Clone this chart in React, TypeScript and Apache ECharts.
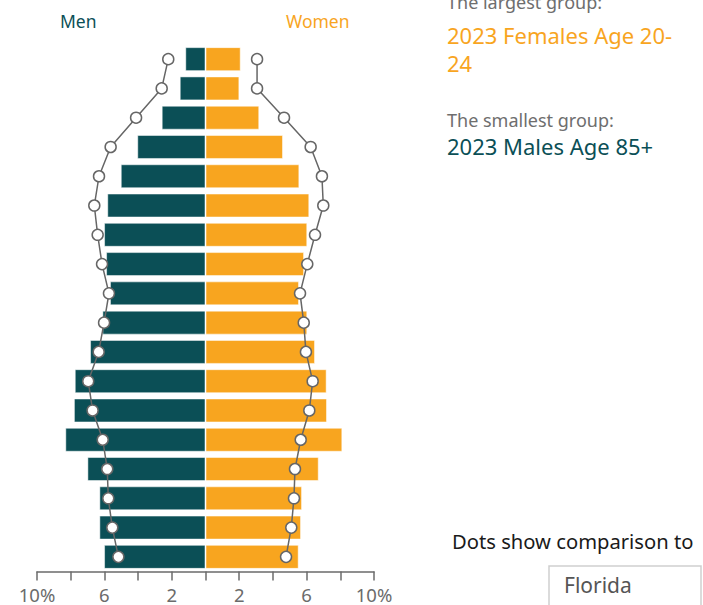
import React, { useEffect, useRef } from "react";
import * as echarts from "echarts";

const ageGroups = ["0-4", "5-9", "10-14", "15-19", "20-24", "25-29", "30-34", "35-39", "40-44", "45-49", "50-54", "55-59", "60-64", "65-69", "70-74", "75-79", "80-84", "85+"];
const menPct = [6.02, 6.3, 6.3, 7.01, 8.32, 7.81, 7.76, 6.85, 6.12, 5.67, 5.9, 6.02, 5.83, 5.03, 4.05, 2.6, 1.53, 1.2];
const womenPct = [5.53, 5.67, 5.73, 6.72, 8.12, 7.21, 7.19, 6.5, 6.04, 5.55, 5.85, 6.04, 6.16, 5.57, 4.6, 3.19, 2.01, 2.09];
const floridaMenPct = [5.17, 5.53, 5.77, 5.83, 6.1, 6.7, 6.96, 6.34, 6.02, 5.73, 6.14, 6.4, 6.6, 6.32, 5.63, 4.12, 2.6, 2.21];
const floridaWomenPct = [4.78, 5.09, 5.25, 5.31, 5.65, 6.16, 6.36, 5.96, 5.83, 5.61, 6.04, 6.5, 6.99, 6.91, 6.24, 4.66, 3.06, 3.06];
const shownTicks = [-10, -6, -2, 2, 6, 10];

const MEN = "#0b4f56";
const WOMEN = "#f8a51f";
const FONT = "'Noto Sans', 'Open Sans', sans-serif";

export default function App() {
  const ref = useRef<HTMLDivElement>(null);
  useEffect(() => {
    if (!ref.current) return;
    const chart = echarts.init(ref.current, null, { renderer: "svg" });
    const neg = (a: number[]) => a.map((v) => -v);
    chart.setOption({
      animation: false,
      textStyle: { fontFamily: FONT },
      grid: { left: 37, right: 329, top: 44.5, bottom: 33.5, containLabel: false },
      xAxis: {
        type: "value",
        min: -10,
        max: 10,
        interval: 2,
        splitLine: { show: false },
        axisLine: { show: true, lineStyle: { color: "#6b6b6b", width: 1.5 } },
        axisTick: { show: true, length: 9, lineStyle: { color: "#6b6b6b", width: 1.5 } },
        axisLabel: {
          margin: 13,
          fontSize: 18.5,
          color: "#6b6b6b",
          fontFamily: FONT,
          formatter: (v: number) => {
            if (!shownTicks.includes(v)) return "";
            const a = Math.abs(v);
            return a === 10 ? a + "%" : String(a);
          },
        },
      },
      yAxis: {
        type: "category",
        data: ageGroups,
        show: false,
      },
      series: [
        {
          name: "Men",
          type: "bar",
          data: neg(menPct),
          barWidth: 24,
          barGap: "-100%",
          itemStyle: { color: MEN, borderColor: "rgba(255,255,255,0.5)", borderWidth: 1 },
        },
        {
          name: "Women",
          type: "bar",
          data: womenPct,
          barWidth: 24,
          itemStyle: { color: WOMEN, borderColor: "rgba(255,255,255,0.5)", borderWidth: 1 },
        },
        {
          name: "Florida Men",
          type: "line",
          data: neg(floridaMenPct),
          symbol: "circle",
          symbolSize: 11,
          z: 5,
          lineStyle: { color: "#666", width: 1.5 },
          itemStyle: { color: "#fff", borderColor: "#666", borderWidth: 1.5 },
        },
        {
          name: "Florida Women",
          type: "line",
          data: floridaWomenPct,
          symbol: "circle",
          symbolSize: 11,
          z: 5,
          lineStyle: { color: "#666", width: 1.5 },
          itemStyle: { color: "#fff", borderColor: "#666", borderWidth: 1.5 },
        },
      ],
      graphic: [
        { type: "text", x: 60, y: 21, style: { text: "Men", fill: MEN, fontSize: 17.5, fontFamily: FONT, verticalAlign: "middle" } },
        { type: "text", x: 286, y: 21, style: { text: "Women", fill: WOMEN, fontSize: 17.5, fontFamily: FONT, verticalAlign: "middle" } },
        { type: "text", x: 447, y: 2, style: { text: "The largest group:", fill: "#6e6e6e", fontSize: 18, fontFamily: FONT, verticalAlign: "middle" } },
        { type: "text", x: 447, y: 21.25, style: { text: "2023 Females Age 20-\n24", fill: WOMEN, fontSize: 22, lineHeight: 27.5, fontFamily: FONT, verticalAlign: "top" } },
        { type: "text", x: 447, y: 120, style: { text: "The smallest group:", fill: "#6e6e6e", fontSize: 18, fontFamily: FONT, verticalAlign: "middle" } },
        { type: "text", x: 447, y: 146, style: { text: "2023 Males Age 85+", fill: MEN, fontSize: 22, fontFamily: FONT, verticalAlign: "middle" } },
        { type: "text", x: 452, y: 541, style: { text: "Dots show comparison to", fill: "#1a1a1a", fontSize: 20.2, fontFamily: FONT, verticalAlign: "middle" } },
        { type: "rect", shape: { x: 549, y: 566, width: 152, height: 50 }, style: { fill: "#fff", stroke: "#cfcfcf", lineWidth: 1.5 } },
        { type: "text", x: 564, y: 585, style: { text: "Florida", fill: "#555", fontSize: 21, fontFamily: FONT, verticalAlign: "middle" } },
      ],
    });
    return () => chart.dispose();
  }, []);
  return (
    <div
      ref={ref}
      style={{ position: "fixed", left: 0, top: 0, width: 703, height: 605, background: "#fff" }}
    />
  );
}
